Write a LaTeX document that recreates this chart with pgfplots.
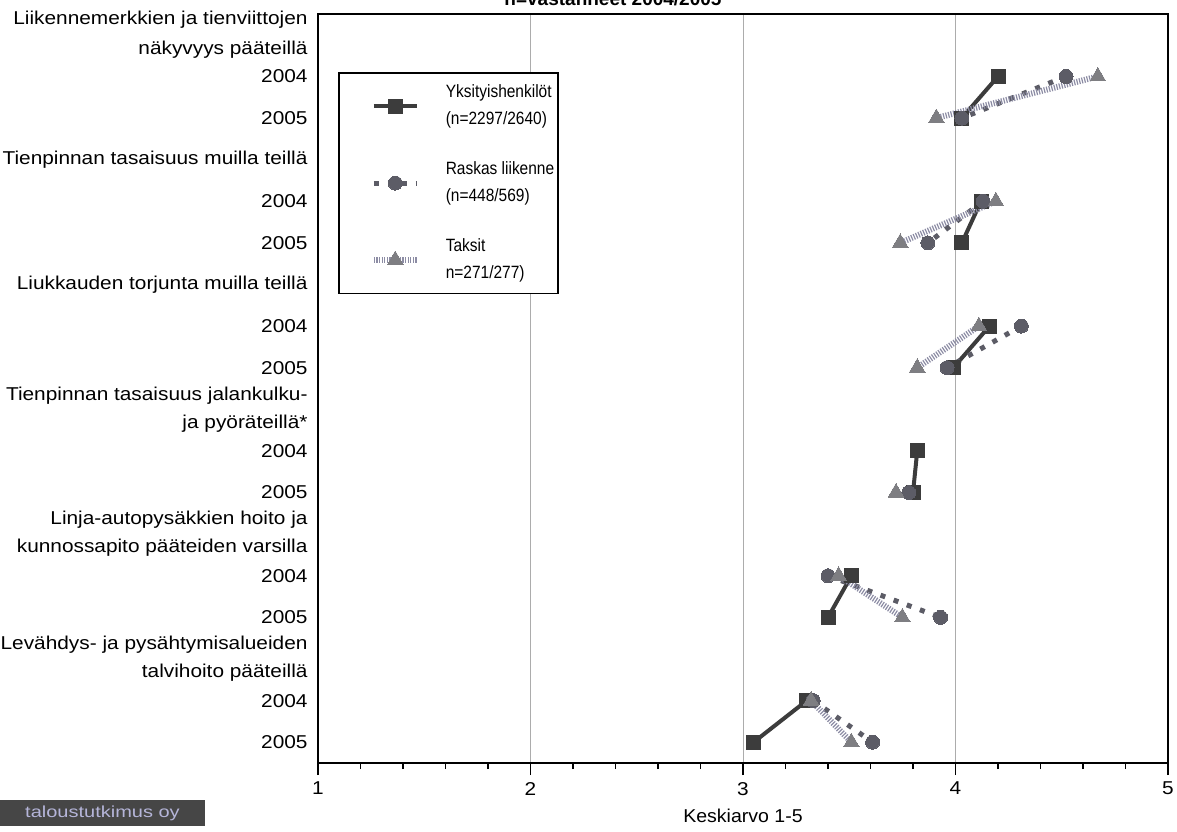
\documentclass[border=0pt]{standalone}
\usepackage{fontspec}
\setmainfont{Liberation Sans}
\newfontfamily\wideA{Liberation Sans}[FakeStretch=1.12]
\newfontfamily\wideB{Liberation Sans}[FakeStretch=1.05]
\newfontfamily\narrowA{Liberation Sans}[FakeStretch=0.87]
\newfontfamily\logofont{Liberation Sans}[FakeStretch=1.25]
\usepackage{pgfplots}
\pgfplotsset{compat=1.18}
\definecolor{cYks}{HTML}{3C3C3C}
\definecolor{cRas}{HTML}{5C5C66}
\definecolor{cTak}{HTML}{7E7E82}
\definecolor{lTak}{HTML}{8C8CA4}
\begin{document}
\begin{tikzpicture}
\begin{axis}[
  scale only axis, width=425pt, height=374.5pt,
  xmin=1, xmax=5, ymin=-0.5, ymax=17.5, y dir=reverse,
  xtick={1,2,3,4,5}, minor x tick num=4,
  xtick pos=left, tick align=outside,
  major tick length=6pt, minor tick length=3pt,
  every tick/.style={black, line width=0.6pt},
  xmajorgrids, major grid style={gray!65, line width=0.5pt},
  ytick={0,...,17},
  yticklabels={{Liikennemerkkien ja tienviittojen\\[1pt]näkyvyys pääteillä},2004,2005,
    Tienpinnan tasaisuus muilla teillä,2004,2005,
    Liukkauden torjunta muilla teillä,2004,2005,
    {Tienpinnan tasaisuus jalankulku-\\ja pyöräteillä*},2004,2005,
    {Linja-autopysäkkien hoito ja\\kunnossapito pääteiden varsilla},2004,2005,
    {Levähdys- ja pysähtymisalueiden\\talvihoito pääteillä},2004,2005},
  y tick style={draw=none}, ytick pos=left,
  yticklabel style={align=right, font=\wideA\fontsize{9.3}{14}\selectfont, xshift=4.3pt},
  xticklabel style={font=\wideA\fontsize{9.3}{11}\selectfont},
  /pgf/number format/assume math mode=true,
  xlabel={Keskiarvo 1-5}, xlabel style={font=\wideB\fontsize{9.3}{11}\selectfont},
  axis line style={line width=0.8pt},
  unbounded coords=jump,
  legend image code/.code={\path[draw=none, fill=none] (0pt,0pt) -- (51.5pt,0pt);
    \draw[#1, mark repeat=2, mark phase=2] plot coordinates {(17.5pt,0pt) (28.25pt,0pt) (39pt,0pt)};},
  legend style={at={(0.0235,0.9226)}, anchor=north west, draw=black, line width=0.8pt,
    font=\narrowA\fontsize{8.9}{13.5}\selectfont, cells={anchor=west, align=left},
    row sep=13pt, inner xsep=0pt, inner ysep=4pt},
]
\addplot[cYks, line width=2pt, mark=square*, mark size=3.5pt, mark options={solid, fill=cYks, line width=0pt}]
 coordinates {(4.20,1) (4.03,2) (nan,3) (4.12,4) (4.03,5) (nan,6) (4.16,7) (3.99,8) (nan,9)
  (3.82,10) (3.80,11) (nan,12) (3.51,13) (3.40,14) (nan,15) (3.30,16) (3.05,17)};
\addlegendentry{Yksityishenkilöt\\(n=2297/2640)}
\addplot[cRas, line width=2.5pt, dash pattern=on 2.5pt off 4.5pt, mark=*, mark size=3.5pt, mark options={solid, fill=cRas, line width=0pt}]
 coordinates {(4.52,1) (4.03,2) (nan,3) (4.13,4) (3.87,5) (nan,6) (4.31,7) (3.96,8) (nan,9)
  (nan,10) (3.78,11) (nan,12) (3.40,13) (3.93,14) (nan,15) (3.33,16) (3.61,17)};
\addlegendentry{Raskas liikenne\\(n=448/569)}
\addplot[lTak, line width=3pt, dash pattern=on 0.6pt off 0.7pt, mark=triangle*, mark size=4.5pt, mark options={solid, fill=cTak, draw=cTak, line width=0pt}]
 coordinates {(4.67,1) (3.91,2) (nan,3) (4.19,4) (3.74,5) (nan,6) (4.11,7) (3.82,8) (nan,9)
  (nan,10) (3.72,11) (nan,12) (3.45,13) (3.75,14) (nan,15) (3.32,16) (3.51,17)};
\addlegendentry{Taksit\\n=271/277)}
\coordinate (SW) at (rel axis cs:0,0);
\coordinate (NE) at (rel axis cs:1,1);
\end{axis}
\node[anchor=base, font=\bfseries\fontsize{9.5}{11}\selectfont] at ([shift={(147.5pt,378.5pt)}]SW) {n=vastanneet 2004/2005};
\node[fill=gray!55!black, minimum width=102.5pt, minimum height=13pt, inner sep=0pt,
  text=white!80!blue!70!gray, font=\logofont\fontsize{8}{9}\selectfont] at ([shift={(-107.75pt,-25pt)}]SW) {taloustutkimus oy};
\pgfresetboundingbox
\useasboundingbox ([shift={(-159pt,-34pt)}]SW) rectangle ([shift={(4.5pt,7pt)}]NE);
\end{tikzpicture}
\end{document}
